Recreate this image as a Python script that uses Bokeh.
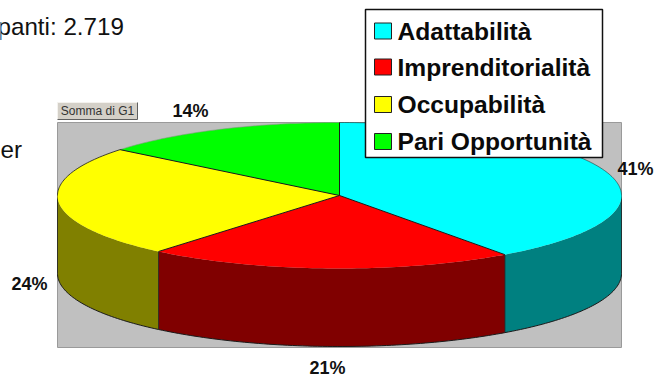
import math

from bokeh.core.properties import value
from bokeh.embed import file_html
from bokeh.models import Range1d
from bokeh.plotting import figure
from bokeh.resources import INLINE

# Shares of the four axes, in percent, clockwise from twelve o'clock
categories = ["Adattabilità", "Imprenditorialità", "Occupabilità", "Pari Opportunità"]
shares = [41, 21, 24, 14]
share_labels = ["41%", "21%", "24%", "14%"]
top_colors = ["#00ffff", "#ff0000", "#ffff00", "#00ff00"]
side_colors = ["#008080", "#800000", "#808000", "#008000"]

WIDTH, HEIGHT = 654, 376
FONT = value("Liberation Sans")
EDGE = "#1a1a1a"

# Pie geometry on the page, in pixels
CX, CY, RX, RY, DEPTH = 339, 195, 282, 73, 78
VIEW_SKEW = 1.9  # degrees of drift from the 3-D view, largest at the front


def rim_point(angle, drop=0.0):
    """Point on the pie's rim for a clockwise angle from the top, in degrees."""
    rad = math.radians(angle)
    return CX + RX * math.sin(rad), CY - RY * math.cos(rad) + drop


def arc(start, end, drop=0.0, step=1.0):
    n = max(2, int(abs(end - start) / step) + 1)
    pts = [rim_point(start + (end - start) * i / (n - 1), drop) for i in range(n)]
    return [q[0] for q in pts], [q[1] for q in pts]


p = figure(
    width=WIDTH, height=HEIGHT,
    x_range=Range1d(0, WIDTH), y_range=Range1d(HEIGHT, 0),
    x_axis_type=None, y_axis_type=None,
    output_backend="svg", toolbar_location=None,
    min_border=0, outline_line_color=None,
    background_fill_color="white", border_fill_color="white",
)
p.grid.visible = False

# Plot-area backdrop
p.quad(left=[57], right=[621], top=[122], bottom=[347],
       fill_color="#c0c0c0", line_color="#9a9a9a", line_width=1)

# Slice boundaries in degrees, as seen through the view
bounds = [0.0]
running = 0.0
for s in shares:
    running += s * 360.0 / sum(shares)
    bounds.append(running - VIEW_SKEW * (1 - math.cos(math.radians(running))))

# Outer wall: only the part of each slice facing the viewer
for i in range(len(shares)):
    a = max(bounds[i], 90.0)
    b = min(bounds[i + 1], 270.0)
    if a >= b:
        continue
    x_up, y_up = arc(a, b)
    x_lo, y_lo = arc(b, a, drop=DEPTH)
    p.patch(x_up + x_lo, y_up + y_lo, fill_color=side_colors[i], line_color=None)
    p.line(*arc(a, b, drop=DEPTH), line_color=EDGE, line_width=1)

# Vertical seams on the wall and its two outer ends
for angle in [90.0] + [b for b in bounds if 90.0 < b < 270.0] + [270.0]:
    x0, y0 = rim_point(angle)
    x1, y1 = rim_point(angle, drop=DEPTH)
    p.line([x0, x1], [y0, y1], line_color=EDGE, line_width=1, line_alpha=0.8)

# Top faces
for i in range(len(shares)):
    xs, ys = arc(bounds[i], bounds[i + 1])
    p.patch([CX] + xs, [CY] + ys, fill_color=top_colors[i], line_color=None)

# Back rim and radial seams drawn over the faces
p.line(*arc(270.0, bounds[3]), line_color=EDGE, line_width=1, line_alpha=0.8)
p.line(*arc(bounds[3], 360.0), line_color="#7f9f7f", line_width=1, line_alpha=0.6)
p.line(*arc(0.0, 90.0), line_color=EDGE, line_width=1, line_alpha=0.5)
for angle in bounds[:-1]:
    x, y = rim_point(angle)
    p.line([CX, x], [CY, y], line_color=EDGE, line_width=1)

# Percent labels around the pie
p.text([653], [168], text=[share_labels[0]],
       text_font=FONT, text_font_style="bold", text_font_size="18px",
       text_color="#111111", text_align="right", text_baseline="middle")
p.text([327, 29, 190], [367, 283, 110], text=share_labels[1:],
       text_font=FONT, text_font_style="bold", text_font_size="18px",
       text_color="#111111", text_align="center", text_baseline="middle")

# Field button of the pivot chart
p.quad(left=[57], right=[137], top=[102], bottom=[119],
       fill_color="#d4d0c8", line_color=None)
p.line([57, 57, 137], [119, 102, 102], line_color="#f4f2ee", line_width=1)
p.line([57, 137, 137], [119, 119, 102], line_color="#5f5f5f", line_width=1)
p.text([97], [110.5], text=["Somma di G1"], text_font=FONT, text_font_size="12px",
       text_color="#333333", text_align="center", text_baseline="middle")

# Legend box
p.quad(left=[365], right=[602], top=[9], bottom=[157],
       fill_color="white", line_color="#111111", line_width=1.5)
swatch_mid = [30.5, 66.5, 104, 141]
p.quad(left=[374] * 4, right=[391] * 4,
       top=[y - 8 for y in swatch_mid], bottom=[y + 8 for y in swatch_mid],
       fill_color=top_colors, line_color="#222222", line_width=1)
p.text([397] * 4, swatch_mid, text=categories,
       text_font=FONT, text_font_style="bold", text_font_size="24.6px",
       text_color="#0a0a0a", text_align="left", text_baseline="middle")

# Body text running in from the left edge of the page
p.text([-3, 0], [26, 149], text=["panti: 2.719", "er"],
       text_font=FONT, text_font_size="24.2px", text_color="#111111",
       text_align="left", text_baseline="middle")

open("out.html", "w").write(file_html(p, INLINE))
